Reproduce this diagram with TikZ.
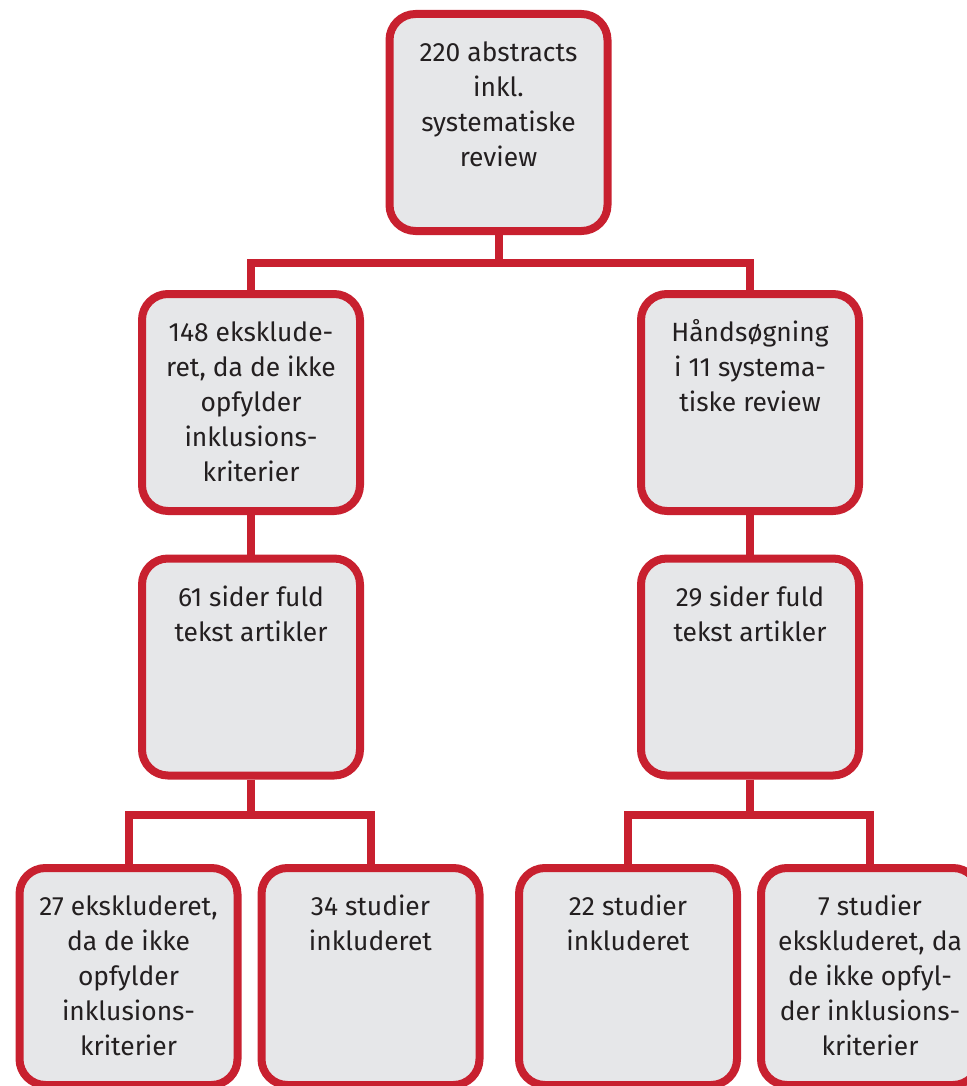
\documentclass[tikz,border=0pt]{standalone}
\usepackage{fontspec}
\setmainfont{Fira Sans}
\usepackage{tikz}
\usetikzlibrary{positioning}
\usepackage{xcolor}
\definecolor{boxred}{HTML}{C8202F}
\definecolor{boxgray}{HTML}{E6E7E9}
\definecolor{ink}{HTML}{231F20}
\newcommand{\boxtext}[1]{\parbox[c][108.5pt][t]{106pt}{\centering\vspace*{11.5pt}\strut#1}}

\begin{document}
\begin{tikzpicture}[x=0.5pt,y=-0.5pt,
  stage/.style={draw=boxred,fill=boxgray,line width=4pt,rounded corners=13pt,inner sep=0pt,
    minimum width=109pt,minimum height=108.5pt,text=ink,font=\fontsize{13.2}{17.5}\selectfont},
  link/.style={draw=boxred,line width=4pt}]
\useasboundingbox (0,0) rectangle (967,1086);
\node[stage] (abs) at (498.5,122.5) {\boxtext{220 abstracts\\inkl.\\systematiske\\review}};
\node[stage] (ex148) at (251,402.5) {\boxtext{148 eksklude-\\ret, da de ikke\\opfylder\\inklusions-\\kriterier}};
\node[stage] (hand) at (750,402.5) {\boxtext{Håndsøgning\\i 11 systema-\\tiske review}};
\node[stage] (full61) at (251,667) {\boxtext{61 sider fuld\\tekst artikler}};
\node[stage] (full29) at (750,667) {\boxtext{29 sider fuld\\tekst artikler}};
\node[stage] (ex27) at (128.5,976.5) {\boxtext{27 ekskluderet,\\da de ikke\\opfylder\\inklusions-\\kriterier}};
\node[stage] (inc34) at (370.5,976.5) {\boxtext{34 studier\\inkluderet}};
\node[stage] (inc22) at (628,976.5) {\boxtext{22 studier\\inkluderet}};
\node[stage] (ex7) at (870,976.5) {\boxtext{7 studier\\ekskluderet, da\\de ikke opfyl-\\der inklusions-\\kriterier}};
\draw[link] (abs.south) -- ++(0,28) -| (ex148.north);
\draw[link] (abs.south) ++(0,28) -| (hand.north);
\draw[link] (ex148) -- (full61);
\draw[link] (hand) -- (full29);
\draw[link] (full61.south) -- ++(0,35) -| (ex27.north);
\draw[link] (full61.south) ++(0,35) -| (inc34.north);
\draw[link] (full29.south) -- ++(0,35) -| (inc22.north);
\draw[link] (full29.south) ++(0,35) -| (ex7.north);
\end{tikzpicture}
\end{document}
